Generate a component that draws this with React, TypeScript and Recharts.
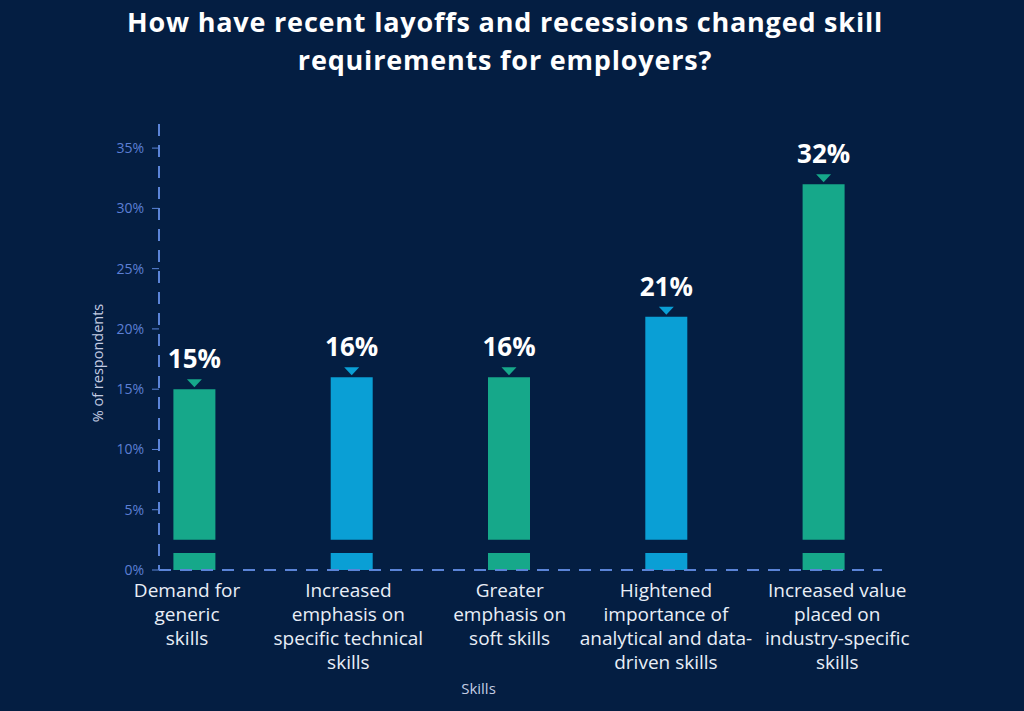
import React from 'react';
import { BarChart, Bar, XAxis, YAxis, Cell, LabelList } from 'recharts';

const categories = [
  'Demand for|generic|skills',
  'Increased|emphasis on|specific technical|skills',
  'Greater|emphasis on|soft skills',
  'Hightened|importance of|analytical and data-|driven skills',
  'Increased value|placed on|industry-specific|skills',
];
const values = [15, 16, 16, 21, 32];
const barColors = ['#16a88a', '#0a9fd5', '#16a88a', '#0a9fd5', '#16a88a'];
const yTicks = [0, 5, 10, 15, 20, 25, 30, 35];

// the bars have a small cut near the base: a short foot, a gap, then the rest
const footBand = 1.4;
const gapBand = 1.1;

// labels in the original sit a little off their bar centres
const labelNudge = [-7, -3, 1, 0, 14];

const BG = '#041e42';
const AXIS = '#5b84d8';

const data = categories.map((c, i) => ({
  name: c,
  value: values[i],
  foot: footBand,
  gap: gapBand,
  rest: values[i] - footBand - gapBand,
}));

const CategoryTick = (props: any) => {
  const { y, payload, index } = props;
  const x = props.x + (labelNudge[index] || 0);
  const lines = String(payload.value).split('|');
  return (
    <text x={x} y={y + 19} textAnchor="middle" fill="#e9eef7" fontSize={19} fontFamily="Open Sans">
      {lines.map((l, i) => (
        <tspan key={i} x={x} dy={i === 0 ? 0 : 24}>
          {l}
        </tspan>
      ))}
    </text>
  );
};

const TopLabel = (props: any) => {
  const x = Number(props.x);
  const y = Number(props.y);
  const w = Number(props.width);
  const cx = x + w / 2;
  const color = barColors[props.index] || barColors[0];
  return (
    <g>
      <polygon points={`${cx - 7.5},${y - 10} ${cx + 7.5},${y - 10} ${cx},${y - 2}`} fill={color} />
      <text x={cx} y={y - 21} textAnchor="middle" fill="#ffffff" fontSize={26} fontWeight={700} fontFamily="Open Sans">
        {`${props.value}%`}
      </text>
    </g>
  );
};

const App = () => {
  return (
    <div style={{ position: 'fixed', left: 0, top: 0, width: 1024, height: 711, background: BG, fontFamily: 'Open Sans' }}>
      <div
        style={{
          position: 'absolute',
          left: 0,
          top: 3,
          width: 1010,
          textAlign: 'center',
          color: '#ffffff',
          fontSize: 27,
          fontWeight: 700,
          letterSpacing: '0.8px',
          lineHeight: '38px',
        }}
      >
        How have recent layoffs and recessions changed skill
        <br />
        requirements for employers?
      </div>
      <BarChart
        width={1024}
        height={711}
        data={data}
        margin={{ top: 124, right: 142, bottom: 21, left: 99 }}
        style={{ position: 'absolute', left: 0, top: 0 }}
      >
        <XAxis
          dataKey="name"
          interval={0}
          height={120}
          padding={{ left: -43.6, right: -19.9 }}
          tickLine={false}
          axisLine={{ stroke: AXIS, strokeWidth: 2, strokeDasharray: '12 9' }}
          tick={<CategoryTick />}
          label={{
            content: (p: any) => (
              <text
                x={p.viewBox.x + p.viewBox.width / 2 - 42}
                y={p.viewBox.y + 118}
                textAnchor="middle"
                dominantBaseline="central"
                fill="#c3cce2"
                fontSize={15}
                fontFamily="Open Sans"
              >
                Skills
              </text>
            ),
          }}
        />
        <YAxis
          domain={[0, 37]}
          ticks={yTicks}
          width={60}
          tickSize={7}
          tickMargin={8}
          tickFormatter={(v: number) => `${v}%`}
          tick={{ fill: '#5c7fd4', fontSize: 14, fontFamily: 'Open Sans' }}
          tickLine={{ stroke: AXIS, strokeWidth: 1 }}
          axisLine={{ stroke: AXIS, strokeWidth: 2, strokeDasharray: '12 9' }}
          label={{
            content: (p: any) => {
              const lx = p.viewBox.x - 2;
              const ly = p.viewBox.y + p.viewBox.height / 2 + 16;
              return (
                <text
                  x={lx}
                  y={ly}
                  transform={`rotate(-90, ${lx}, ${ly})`}
                  textAnchor="middle"
                  dominantBaseline="central"
                  fill="#c3cce2"
                  fontSize={14.5}
                  fontFamily="Open Sans"
                >
                  % of respondents
                </text>
              );
            },
          }}
        />
        <Bar dataKey="foot" stackId="s" barSize={42} isAnimationActive={false}>
          {data.map((_, i) => (
            <Cell key={i} fill={barColors[i]} />
          ))}
        </Bar>
        <Bar dataKey="gap" stackId="s" barSize={42} fill="transparent" isAnimationActive={false} />
        <Bar dataKey="rest" stackId="s" barSize={42} isAnimationActive={false}>
          {data.map((_, i) => (
            <Cell key={i} fill={barColors[i]} />
          ))}
          <LabelList dataKey="value" content={<TopLabel />} />
        </Bar>
      </BarChart>
    </div>
  );
};

export default App;
